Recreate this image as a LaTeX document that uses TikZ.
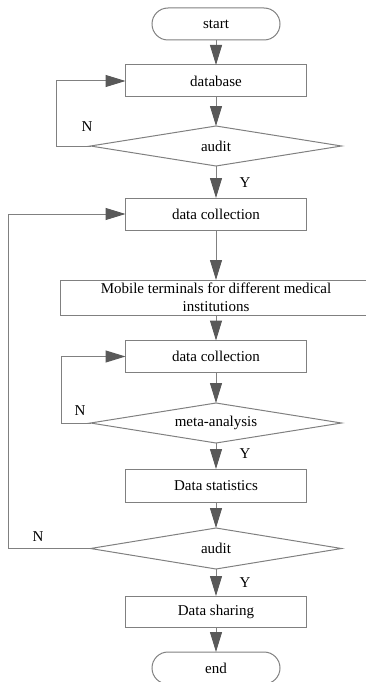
\documentclass[tikz,border=0pt]{standalone}
\usepackage{fontspec}
\setmainfont{Liberation Serif}
\usetikzlibrary{arrows.meta, shapes.geometric, positioning}
\definecolor{linegray}{RGB}{128,128,128}
\definecolor{arrowgray}{RGB}{89,89,89}

\begin{document}
\begin{tikzpicture}[x=1pt, y=-1pt,
    txt/.style={font=\fontsize{15}{18}\selectfont},
    box/.style={txt, draw=linegray, line width=1pt, rectangle, minimum width=181pt, minimum height=32pt, inner sep=0pt, outer sep=0pt},
    term/.style={box, rounded corners=16pt, minimum width=128pt},
    decision/.style={txt, draw=linegray, line width=1pt, diamond, aspect=6, minimum width=251pt, minimum height=40pt, inner sep=0pt, outer sep=0pt},
    flow/.style={draw=linegray, line width=1pt, -{Triangle[length=20pt, width=12pt, color=arrowgray]}}]
    \useasboundingbox (0,0) rectangle (365,682);

    \node[term] (start) at (216,24) {start};
    \node[box] (db) at (216,81) {database};
    \node[decision] (auditA) at (216,146) {audit};
    \node[box] (collectA) at (216,214) {data collection};
    \node[box, minimum width=312pt, minimum height=35pt, align=center] (mobile) at (216,297.5) {Mobile terminals for different medical\\institutions};
    \node[box] (collectB) at (216,356.5) {data collection};
    \node[decision] (meta) at (216,423) {meta-analysis};
    \node[box, minimum height=33pt] (stats) at (216,485.5) {Data statistics};
    \node[decision, minimum height=41pt] (auditB) at (216,548.5) {audit};
    \node[box, minimum height=31pt] (share) at (216,611.5) {Data sharing};
    \node[term] (stop) at (216,668) {end};

    \node[txt] (nA) at (87,127) {N};
    \node[txt] (yA) at (245,183) {Y};
    \node[txt] (nB) at (80,411) {N};
    \node[txt] (yB) at (245,454) {Y};
    \node[txt] (nC) at (38,537) {N};
    \node[txt] (yC) at (245,583) {Y};

    \draw[flow] (start) -- (db);
    \draw[flow] (db) -- (auditA);
    \draw[flow] (auditA) -- (collectA);
    \draw[flow] (collectA) -- (mobile);
    \draw[flow] (mobile) -- (collectB);
    \draw[flow] (collectB) -- (meta);
    \draw[flow] (meta) -- (stats);
    \draw[flow] (stats) -- (auditB);
    \draw[flow] (auditB) -- (share);
    \draw[flow] (share) -- (stop);

    \draw[flow] (auditA.west) -- ++(-34,0) |- (db.west);
    \draw[flow] (meta.west) -- ++(-29,0) |- (collectB.west);
    \draw[flow] (auditB.west) -- ++(-82,0) |- (collectA.west);

  \end{tikzpicture}
\end{document}
